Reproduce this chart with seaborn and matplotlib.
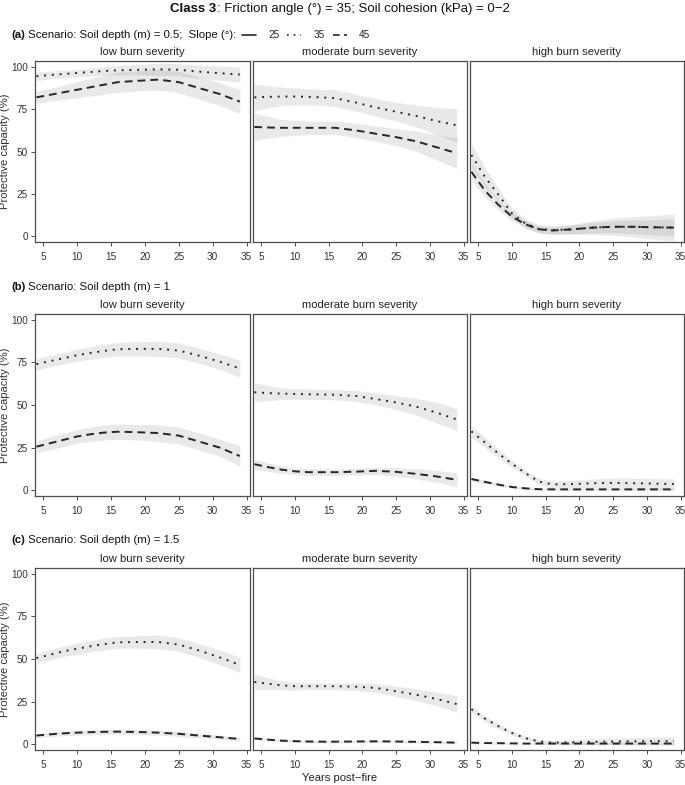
import numpy as np
import pandas as pd
import matplotlib
matplotlib.use("Agg")
import matplotlib.pyplot as plt
from matplotlib.lines import Line2D
import seaborn as sns

# -------------------------------
# Data
# -------------------------------
YEARS = [4, 6, 8, 10, 12, 14, 16, 19, 22, 25, 28, 31, 34]
SEVERITY = ["low burn severity", "moderate burn severity", "high burn severity"]
ROW_LABELS = ["(a)", "(b)", "(c)"]
ROW_TEXT = [" Scenario: Soil depth (m) = 0.5;  Slope (°):",
            " Scenario: Soil depth (m) = 1",
            " Scenario: Soil depth (m) = 1.5"]
SLOPES = ["25", "35", "45"]

# (a) soil depth 0.5 m
A_LOW_35 = [94.5, 95.2, 95.8, 96.4, 97.0, 97.6, 98.0, 98.3, 98.6, 98.3, 97.2, 96.3, 95.5]
A_LOW_35_CI = [2.5, 2.3, 2.2, 2.2, 2.3, 2.5, 2.8, 3.0, 3.5, 3.6, 3.8, 4.2, 4.5]
A_LOW_45 = [82.0, 83.5, 85.0, 86.5, 88.0, 89.5, 91.0, 91.8, 92.5, 91.0, 87.5, 84.0, 79.5]
A_LOW_45_CI = [3.5, 3.8, 4.2, 4.8, 5.2, 5.6, 6.0, 6.0, 6.2, 6.3, 6.5, 6.8, 7.0]
A_MOD_35 = [82.0, 82.3, 82.5, 82.5, 82.3, 82.0, 81.5, 79.0, 76.0, 73.5, 71.0, 68.0, 65.5]
A_MOD_35_CI = [8.0, 6.5, 5.5, 5.0, 4.8, 4.8, 5.0, 5.0, 5.2, 5.5, 6.5, 8.0, 10.0]
A_MOD_45 = [64.5, 64.2, 64.0, 64.0, 64.0, 64.0, 64.0, 62.5, 60.5, 58.5, 56.0, 52.5, 49.0]
A_MOD_45_CI = [8.0, 6.5, 5.0, 4.5, 4.0, 4.0, 4.0, 4.2, 4.5, 5.0, 6.0, 7.5, 9.0]
A_HIGH_35 = [48.0, 35.0, 24.5, 13.5, 7.5, 4.2, 3.5, 4.0, 5.0, 5.5, 5.5, 5.2, 5.0]
A_HIGH_35_CI = [7.0, 5.5, 4.0, 3.0, 2.5, 2.5, 2.5, 3.0, 4.0, 5.0, 6.0, 7.0, 8.0]
A_HIGH_45 = [38.0, 27.0, 18.5, 11.5, 7.0, 4.0, 3.3, 4.0, 5.0, 5.5, 5.5, 5.2, 5.0]
A_HIGH_45_CI = [5.0, 4.0, 3.0, 2.5, 2.0, 2.0, 2.0, 2.5, 3.0, 3.5, 4.0, 4.5, 5.0]

# (b) soil depth 1 m
B_LOW_35 = [74.0, 75.8, 77.5, 79.3, 80.6, 81.8, 82.8, 83.0, 83.0, 82.0, 79.0, 75.5, 71.5]
B_LOW_35_CI = [3.5, 3.3, 3.3, 3.5, 3.7, 3.9, 4.0, 4.2, 4.5, 4.5, 4.5, 4.5, 5.0]
B_LOW_45 = [25.5, 27.5, 29.5, 31.5, 32.8, 33.8, 34.3, 34.0, 33.5, 32.0, 28.5, 25.0, 20.0]
B_LOW_45_CI = [3.5, 3.8, 4.0, 4.0, 4.2, 4.3, 4.5, 4.5, 5.0, 5.0, 5.0, 5.0, 6.0]
B_MOD_35 = [57.5, 57.0, 56.7, 56.5, 56.3, 56.2, 56.0, 55.3, 53.5, 51.5, 49.0, 45.5, 41.5]
B_MOD_35_CI = [5.5, 4.5, 3.5, 3.0, 3.0, 3.0, 3.0, 3.2, 3.5, 4.0, 5.0, 6.0, 6.5]
B_MOD_45 = [15.2, 13.5, 12.0, 11.0, 10.5, 10.5, 10.5, 10.8, 11.3, 10.7, 9.5, 8.0, 6.0]
B_MOD_45_CI = [3.0, 2.5, 2.2, 2.0, 2.0, 2.0, 2.0, 2.0, 2.2, 2.5, 3.0, 3.5, 4.0]
B_HIGH_35 = [34.5, 28.0, 21.5, 15.5, 10.0, 5.0, 3.3, 3.5, 4.0, 4.2, 4.0, 3.8, 3.5]
B_HIGH_35_CI = [3.5, 3.0, 2.5, 2.0, 1.8, 1.8, 2.0, 2.2, 2.5, 2.8, 3.0, 3.0, 3.0]
B_HIGH_45 = [6.5, 4.8, 3.2, 1.8, 1.0, 0.5, 0.4, 0.4, 0.4, 0.4, 0.4, 0.4, 0.4]
B_HIGH_45_CI = [1.2, 1.0, 0.9, 0.8, 0.8, 0.8, 0.8, 0.8, 0.8, 0.8, 0.8, 0.8, 0.8]

# (c) soil depth 1.5 m
C_LOW_35 = [50.5, 52.5, 54.5, 56.0, 57.5, 58.8, 59.8, 60.0, 60.0, 58.5, 55.0, 51.0, 46.5]
C_LOW_35_CI = [2.5, 3.0, 3.0, 3.2, 3.3, 3.5, 3.5, 3.7, 4.0, 4.0, 4.0, 4.3, 4.5]
C_LOW_45 = [5.0, 5.7, 6.3, 6.7, 7.0, 7.2, 7.3, 7.1, 6.7, 6.0, 5.0, 4.0, 3.0]
C_LOW_45_CI = [1.2, 1.3, 1.4, 1.5, 1.5, 1.5, 1.5, 1.5, 1.5, 1.5, 1.4, 1.2, 1.2]
C_MOD_35 = [36.5, 35.5, 34.5, 34.0, 34.0, 34.0, 34.0, 33.7, 33.0, 31.0, 29.0, 26.5, 23.5]
C_MOD_35_CI = [4.5, 3.5, 2.5, 2.2, 2.0, 2.0, 2.0, 2.2, 2.5, 3.0, 3.5, 4.0, 5.0]
C_MOD_45 = [3.3, 2.6, 2.0, 1.7, 1.5, 1.4, 1.4, 1.5, 1.6, 1.5, 1.3, 1.1, 0.8]
C_MOD_45_CI = [0.8, 0.8, 0.8, 0.8, 0.8, 0.8, 0.8, 0.8, 0.8, 0.8, 0.8, 0.8, 0.8]
C_HIGH_35 = [20.5, 15.0, 10.5, 6.5, 3.5, 1.5, 0.8, 1.0, 1.3, 1.5, 1.6, 1.7, 1.7]
C_HIGH_35_CI = [2.0, 1.8, 1.5, 1.3, 1.2, 1.2, 1.3, 1.5, 1.8, 2.0, 2.2, 2.3, 2.5]
C_HIGH_45 = [0.8, 0.6, 0.5, 0.4, 0.3, 0.3, 0.3, 0.3, 0.3, 0.3, 0.3, 0.3, 0.3]
C_HIGH_45_CI = [0.5, 0.5, 0.5, 0.5, 0.5, 0.5, 0.5, 0.5, 0.5, 0.5, 0.5, 0.5, 0.5]

PANELS = [
    [(A_LOW_35, A_LOW_35_CI, A_LOW_45, A_LOW_45_CI),
     (A_MOD_35, A_MOD_35_CI, A_MOD_45, A_MOD_45_CI),
     (A_HIGH_35, A_HIGH_35_CI, A_HIGH_45, A_HIGH_45_CI)],
    [(B_LOW_35, B_LOW_35_CI, B_LOW_45, B_LOW_45_CI),
     (B_MOD_35, B_MOD_35_CI, B_MOD_45, B_MOD_45_CI),
     (B_HIGH_35, B_HIGH_35_CI, B_HIGH_45, B_HIGH_45_CI)],
    [(C_LOW_35, C_LOW_35_CI, C_LOW_45, C_LOW_45_CI),
     (C_MOD_35, C_MOD_35_CI, C_MOD_45, C_MOD_45_CI),
     (C_HIGH_35, C_HIGH_35_CI, C_HIGH_45, C_HIGH_45_CI)],
]

# -------------------------------
# Style
# -------------------------------
sns.set_style("white")
plt.rcParams["font.family"] = ["Liberation Sans", "DejaVu Sans"]

W, H = 685, 785
LINE_COL = "#262626"
FRAME_COL = "#4d4d4d"
DASHES = {"25": "", "35": (1, 3), "45": (4, 2.6)}

fig = plt.figure(figsize=(W / 100, H / 100), dpi=100)

col_px = [(35, 250), (253, 467), (470, 684)]
row_px = [(61, 242), (314, 496), (568, 750)]


def add_ax(x0, x1, y0, y1):
    return fig.add_axes([x0 / W, 1 - y1 / H, (x1 - x0) / W, (y1 - y0) / H])


def two_part(x_px, y_px, bold, rest, size, center=False):
    r = fig.canvas.get_renderer()
    t1 = fig.text(0, 0, bold, weight="bold", size=size, va="center", color="#111111")
    t2 = fig.text(0, 0, rest, size=size, va="center", color="#111111")
    w1 = t1.get_window_extent(r).width
    w2 = t2.get_window_extent(r).width
    x0 = x_px - (w1 + w2) / 2 if center else x_px
    t1.set_position((x0 / W, 1 - y_px / H))
    t2.set_position(((x0 + w1) / W, 1 - y_px / H))
    return x0 + w1 + w2


for i, (ry0, ry1) in enumerate(row_px):
    for j, (cx0, cx1) in enumerate(col_px):
        ax = add_ax(cx0, cx1, ry0, ry1)
        m35, ci35, m45, ci45 = PANELS[i][j]
        yrs = np.array(YEARS)
        for m, ci in [(m35, ci35), (m45, ci45)]:
            m = np.array(m)
            ci = np.array(ci)
            ax.fill_between(yrs, m - ci, m + ci, color="#7f7f7f", alpha=0.17, lw=0)
        df = pd.DataFrame({
            "year": YEARS * 2,
            "pc": m35 + m45,
            "slope": ["35"] * len(YEARS) + ["45"] * len(YEARS),
        })
        sns.lineplot(data=df, x="year", y="pc", style="slope", style_order=["35", "45"],
                     dashes=DASHES, color=LINE_COL, lw=1.4, legend=False, ax=ax)
        ax.set_xlim(3.8, 35.5)
        ax.set_ylim(-3.5, 103.5)
        ax.set_xticks([5, 10, 15, 20, 25, 30, 35])
        ax.set_yticks([0, 25, 50, 75, 100])
        for s in ax.spines.values():
            s.set_visible(True)
            s.set_color(FRAME_COL)
            s.set_linewidth(0.9)
        ax.tick_params(axis="both", direction="out", length=3, width=0.7,
                       color=FRAME_COL, labelsize=7.2, labelcolor="#333333", pad=2)
        ax.tick_params(axis="x", bottom=True, pad=4)
        ax.set_xlabel("")
        ax.text(0.5, 1 + 9 / (ry1 - ry0), SEVERITY[j], transform=ax.transAxes,
                ha="center", va="center", fontsize=8.1, color="#222222")
        if j == 0:
            ax.tick_params(axis="y", left=True)
            ax.set_ylabel("Protective capacity (%)", fontsize=8.1, color="#333333")
            ax.yaxis.set_label_coords(-0.115, 0.5)
        else:
            ax.tick_params(axis="y", left=False, labelleft=False)
            ax.set_ylabel("")

# title and row labels
two_part(340, 9, "Class 3", ": Friction angle (°) = 35; Soil cohesion (kPa) = 0\u22122", 9.5, center=True)
row_label_y = [35, 287, 540]
end_a = None
for i in range(3):
    e = two_part(11, row_label_y[i], ROW_LABELS[i], ROW_TEXT[i], 8.2)
    if i == 0:
        end_a = e

fig.text(340 / W, 1 - 778 / H, "Years post\u2212fire", ha="center", va="center",
         fontsize=8.1, color="#222222")

# slope legend
handles = [Line2D([], [], color=LINE_COL, lw=1.2, dashes=DASHES[s]) if s != "25"
           else Line2D([], [], color=LINE_COL, lw=1.2) for s in SLOPES]
fig.legend(handles, SLOPES, loc="center left", bbox_to_anchor=((end_a + 6) / W, 1 - 35 / H),
           ncol=3, frameon=False, fontsize=7.2, handlelength=1.4, handletextpad=1.2,
           columnspacing=0.8, borderaxespad=0, borderpad=0)

fig.savefig("out.png", dpi=100)
